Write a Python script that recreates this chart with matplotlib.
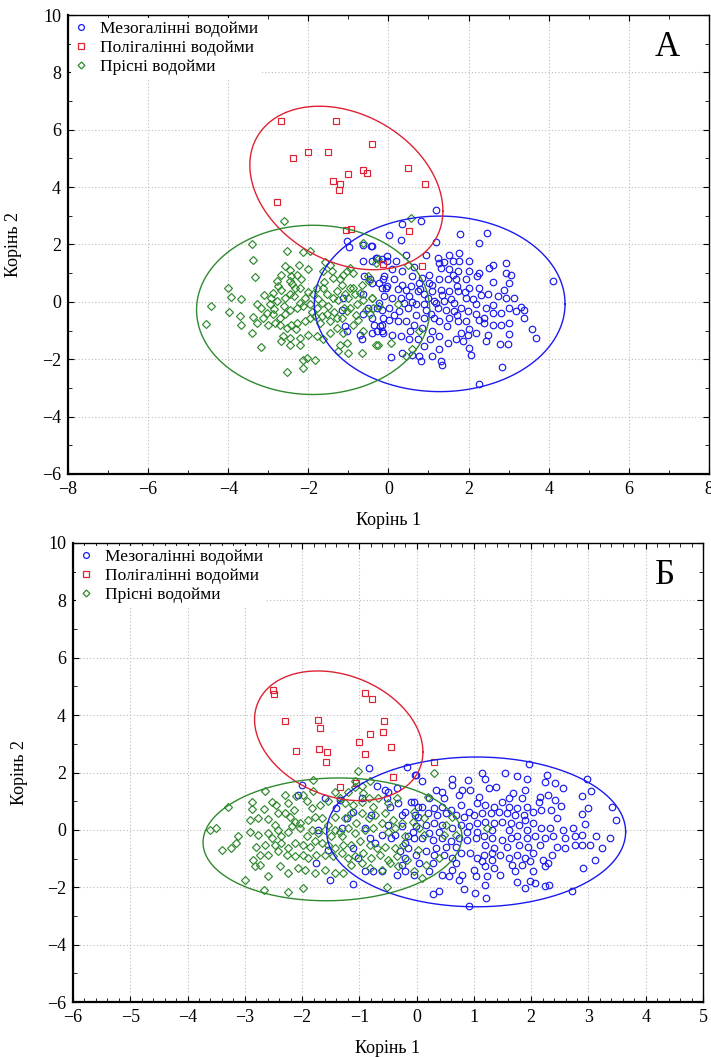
import numpy as np
import matplotlib
matplotlib.use("Agg")
import matplotlib.pyplot as plt
from matplotlib.ticker import MultipleLocator

plt.rcParams['font.family'] = ['Liberation Serif', 'DejaVu Serif']

LABELS = ["Мезогалінні водойми", "Полігалінні водойми", "Прісні водойми"]
XLABEL = "Корінь 1"
YLABEL = "Корінь 2"

# ---------------- Panel A data ----------------
a_poly = [(-2.68, 6.29), (-1.32, 6.32), (-0.41, 5.51), (-2.37, 5.03), (-2.00, 5.24), (-1.50, 5.24),
          (0.49, 4.65), (0.91, 4.12), (-1.39, 4.22), (-1.22, 4.10), (-1.24, 3.91), (-1.01, 4.45),
          (-0.64, 4.59), (-0.53, 4.49), (-2.78, 3.47), (-1.05, 2.50), (-0.94, 2.54), (0.52, 2.46),
          (-0.14, 1.32), (0.83, 1.24)]

a_fresh = [(-2.61, 2.81), (-3.40, 2.03), (-3.38, 1.47), (-3.33, 0.86), (-4.00, 0.47), (-3.93, 0.16),
           (-3.68, 0.10), (-4.44, -0.16), (-3.98, -0.36), (-4.56, -0.76), (-3.68, -0.81), (-3.70, -0.50),
           (-3.38, -0.52), (-3.27, -0.09), (-3.41, -1.08), (-3.17, -1.56), (-2.54, 1.77), (-2.13, 1.73),
           (-1.96, 1.79), (-2.00, 1.15), (-2.24, 1.28), (-2.57, 1.24), (-2.67, 0.95), (-2.42, 0.90),
           (-2.29, 0.95), (-2.17, 0.78), (-2.46, 0.72), (-2.79, 0.72), (-2.67, 0.43), (-2.88, 0.31),
           (-2.92, 0.14), (-2.96, -0.09), (-2.79, 0.02), (-2.58, 0.14), (-2.46, 0.26), (-2.33, 0.49),
           (-2.21, 0.49), (-2.08, 0.14), (-1.88, 0.26), (-1.79, 0.49), (-1.63, 0.49), (-1.58, 1.38),
           (-1.63, 1.07), (-1.42, 1.07), (-1.38, 0.84), (-1.13, 0.95), (-1.04, 1.07), (-0.96, 1.19),
           (-0.88, 1.01), (-1.17, 0.60), (-1.29, 0.37), (-1.38, 0.14), (-1.54, 0.26), (-1.67, -0.03),
           (-1.79, -0.21), (-1.96, -0.09), (-2.13, -0.15), (-2.29, -0.21), (-2.46, -0.27), (-2.58, -0.44),
           (-2.71, -0.56), (-2.88, -0.44), (-3.04, -0.38), (-3.17, -0.21), (-3.13, -0.56), (-3.29, -0.73),
           (-3.00, -0.79), (-2.83, -0.73), (-2.71, -0.79), (-2.54, -0.91), (-2.42, -0.79), (-2.29, -0.73),
           (-2.08, -0.67), (-1.96, -0.56), (-1.83, -0.50), (-1.67, -0.50), (-1.54, -0.44), (-1.46, -0.67),
           (-1.29, -0.56), (-1.17, -0.56), (-1.04, -0.33), (-0.96, -0.21), (-0.79, -0.09), (-0.63, 0.08),
           (-0.67, 0.60), (-0.88, 0.49), (-1.08, 0.26), (-1.00, 0.14), (-0.83, 0.26), (-0.42, 0.14),
           (-0.38, -0.21), (-0.46, -0.44), (-0.75, -0.62), (-1.29, -0.91), (-1.46, -1.08), (-1.63, -1.31),
           (-1.79, -1.20), (-2.00, -1.14), (-2.21, -1.26), (-2.46, -1.26), (-2.63, -1.20), (-2.67, -1.37),
           (-2.21, -1.49), (-2.46, -1.49), (-1.21, -1.49), (-1.04, -1.43), (-1.25, -1.72), (-1.00, -1.78),
           (-0.67, -1.80), (-0.27, -1.51), (-0.63, -1.02), (-1.13, -1.08), (-0.88, -0.79), (-2.04, -1.95),
           (-1.83, -2.01), (-2.13, -2.01), (-2.13, -2.30), (-2.53, -2.44), (-0.63, 2.06),
           (0.56, 2.93), (-0.25, 1.51), (-0.32, 1.36), (0.48, 1.30), (-0.48, 0.72), (-0.40, 0.14),
           (-0.23, -0.15), (-0.32, -1.49), (0.06, -1.43), (0.60, -1.66), (0.43, -1.90), (0.77, -1.00),
           (0.23, -0.09),
           (-2.35, 0.20), (-2.20, -0.05), (-1.75, 0.10), (-1.50, -0.15), (-1.25, 0.05), (-1.10, -0.20),
           (-2.00, 0.35), (-2.60, -0.15), (-1.90, -0.35), (-1.60, 0.70), (-2.40, 0.62), (-1.20, 0.80),
           (-0.95, 0.50), (-0.70, 0.30), (-0.55, -0.30), (-0.80, -0.45), (-1.35, -0.35), (-2.75, 0.55),
           (-3.10, 0.25), (-2.85, -0.25), (-1.70, -0.75), (-2.30, -0.95), (-0.50, 0.90), (-1.45, 1.30),
           (-2.45, 1.10)]

a_meso = [(1.18, 3.20), (0.35, 2.72), (0.81, 2.81), (0.02, 2.33), (0.31, 2.17), (1.18, 2.08), (1.78, 2.38),
          (2.46, 2.41), (2.27, 2.06), (-0.44, 1.94), (-0.32, 1.53), (-0.03, 1.59), (0.18, 1.42), (0.43, 1.65),
          (0.93, 1.65), (1.23, 1.53), (1.27, 1.36), (1.52, 1.65), (1.75, 1.71), (1.60, 1.42), (1.77, 1.42),
          (2.02, 1.42), (2.52, 1.19), (2.62, 1.28), (2.93, 1.36), (2.93, 1.01), (3.06, 0.95), (3.02, 0.66),
          (2.89, 0.43), (2.60, 0.70), (2.27, 1.01), (2.02, 1.07), (1.73, 1.07), (1.52, 1.13), (1.31, 1.19),
          (1.02, 0.95), (0.85, 0.84), (0.60, 0.90), (0.35, 1.07), (0.10, 1.13), (-0.11, 0.90), (-0.23, 0.66),
          (-0.07, 0.49), (0.14, 0.78), (0.35, 0.60), (0.56, 0.55), (0.77, 0.66), (1.02, 0.66), (1.27, 0.78),
          (1.48, 0.78), (1.68, 0.78), (1.93, 0.78), (2.02, 0.49), (2.27, 0.49), (2.48, 0.26), (2.73, 0.20),
          (2.93, 0.14), (3.14, 0.14), (3.31, -0.19), (3.39, -0.27), (3.18, -0.33), (3.02, -0.21), (2.81, -0.38),
          (2.60, -0.38), (2.43, -0.21), (2.18, -0.09), (1.93, 0.14), (1.73, 0.37), (1.52, 0.37), (1.31, 0.43),
          (1.10, 0.37), (0.89, 0.26), (0.73, 0.37), (0.52, 0.20), (0.31, 0.14), (0.10, 0.14), (-0.11, 0.20),
          (-0.23, -0.03), (0.02, -0.21), (0.27, -0.33), (0.48, -0.21), (0.68, -0.09), (0.89, -0.09),
          (1.14, 0.02), (1.39, 0.02), (1.64, -0.03), (1.81, -0.21), (1.98, -0.33), (2.18, -0.44), (2.39, -0.56),
          (2.39, -0.73), (2.60, -0.79), (2.81, -0.79), (3.02, -0.73), (3.39, -0.58), (3.58, -0.93), (3.68, -1.26),
          (3.02, -1.12), (2.78, -1.47), (2.98, -1.47), (2.43, -1.37), (2.48, -1.14), (2.18, -1.08), (1.98, -1.14),
          (1.81, -1.08), (1.68, -1.31), (1.48, -1.43), (1.27, -1.20), (1.10, -1.02), (0.85, -0.91), (0.64, -0.79),
          (0.43, -0.67), (0.23, -0.67), (0.02, -0.62), (-0.15, -0.79), (-0.36, -0.79), (-0.40, -1.08),
          (-0.15, -1.02), (0.10, -1.14), (0.31, -1.20), (0.52, -1.31), (0.73, -1.31), (0.89, -1.55), (1.10, -1.90),
          (1.27, -1.66), (1.31, -2.07), (1.35, -2.19), (0.81, -2.07), (0.77, -1.90), (0.60, -1.84), (0.35, -1.78),
          (0.06, -1.93), (1.52, -0.56), (1.73, -0.67), (1.93, -0.67), (1.27, -0.67), (1.06, -0.44), (0.89, -0.56),
          (1.64, -0.33), (1.43, -0.27), (1.23, -0.21), (2.02, -1.60), (2.06, -1.84), (2.83, -2.28), (2.27, -2.88),
          (4.10, 0.74),
          (-1.04, 2.12), (-0.98, 1.92), (-0.63, 1.97), (-0.42, 1.94), (-0.63, 1.44), (-0.42, 1.42), (-0.29, 1.53),
          (-0.17, 1.48), (-0.04, 1.42), (-0.61, 0.90), (-0.46, 0.78), (-0.42, 0.66), (-0.13, 0.78), (-0.04, 0.55),
          (-0.17, 0.49), (-0.63, 0.26), (-0.50, -0.21), (-0.29, -0.21), (-0.17, -0.27), (-0.63, -0.44),
          (-0.42, -0.56), (-0.21, -0.85), (-0.13, -1.08), (-0.29, -1.02), (-1.13, 0.14), (-1.17, -0.27),
          (-1.08, -0.85), (-1.04, -1.02), (-0.71, -1.14), (-0.67, -1.31), (-0.13, -0.56),
          (0.60, 0.00), (0.80, 0.45), (1.00, 0.15), (1.20, -0.05), (1.35, 0.25), (1.55, 0.10), (1.70, 0.55),
          (1.90, 0.35), (2.10, 0.10), (2.30, 0.25), (0.70, -0.45), (0.95, -0.30), (1.15, -0.55), (1.45, -0.85),
          (1.70, -0.45), (2.00, -0.95), (2.25, -0.65), (0.45, 0.40), (0.25, 0.45), (0.40, -0.05), (1.10, 0.60),
          (1.60, 0.95), (2.20, 0.90), (0.65, 1.20), (1.40, 1.40), (1.85, -1.35), (2.60, -0.10), (0.15, -0.45),
          (0.55, -1.00), (1.05, -1.30)]

# ---------------- Panel B data ----------------
b_poly = [(-2.51, 4.88), (-2.49, 4.74), (-0.91, 4.76), (-0.78, 4.55), (-2.30, 3.80), (-1.73, 3.83),
          (-1.68, 3.56), (-0.57, 3.81), (-0.59, 3.40), (-0.82, 3.34), (-1.00, 3.06), (-2.11, 2.76),
          (-1.71, 2.82), (-1.57, 2.73), (-1.59, 2.38), (-0.91, 2.65), (-0.45, 2.88), (0.31, 2.36),
          (-0.41, 1.86), (-1.33, 1.49), (-1.05, 1.65)]

b_fresh = [(-1.81, 1.73), (-1.02, 2.05), (-1.08, 1.71), (-0.82, 1.70), (-2.65, 1.35), (-2.30, 1.21),
           (-2.10, 1.18), (-1.98, 1.21), (-1.81, 1.36), (-1.43, 1.33), (-1.19, 1.33), (-1.08, 1.50),
           (-0.96, 1.54), (-0.93, 1.27),
           (-2.88, 0.98), (-2.53, 0.98), (-2.88, 0.72), (-2.66, 0.73), (-2.45, 0.87), (-2.24, 0.92),
           (-2.15, 0.69), (-1.92, 1.01), (-1.83, 0.75), (-1.69, 0.87), (-1.54, 1.01), (-1.34, 1.10),
           (-1.25, 0.95), (-1.11, 0.87), (-0.96, 0.98), (-0.84, 1.10), (-0.67, 1.10), (-0.76, 0.81),
           (-0.50, 0.92), (-0.35, 1.10),
           (-2.91, 0.35), (-2.77, 0.40), (-2.59, 0.38), (-2.42, 0.58), (-2.30, 0.58), (-2.21, 0.46),
           (-2.13, 0.29), (-2.04, 0.23), (-2.47, 0.17), (-1.89, 0.35), (-1.78, 0.46), (-1.66, 0.40),
           (-1.43, 0.46), (-1.25, 0.40), (-1.14, 0.58), (-0.96, 0.58), (-0.84, 0.40), (-0.73, 0.52),
           (-0.55, 0.58), (-0.41, 0.35), (-0.26, 0.23), (-0.61, 0.23), (-1.05, 0.23), (-1.54, 0.17),
           (-1.43, 0.00),
           (-3.61, 0.00), (-3.51, 0.06), (-3.12, -0.20), (-2.91, -0.06), (-2.77, -0.17), (-2.59, -0.12),
           (-2.42, 0.00), (-2.24, -0.06), (-2.18, 0.12), (-2.04, 0.06), (-1.92, -0.20), (-1.83, 0.00),
           (-1.72, -0.12), (-1.60, 0.00), (-1.34, -0.06), (-1.19, 0.06), (-1.08, -0.12), (-0.90, 0.00),
           (-0.76, 0.06), (-0.50, -0.06), (-0.38, 0.06), (-0.20, -0.23), (-1.31, -0.23), (-1.49, -0.23),
           (-2.36, -0.23), (-2.53, -0.29),
           (-3.15, -0.46), (-3.39, -0.69), (-3.25, -0.64), (-2.80, -0.58), (-2.65, -0.52), (-2.47, -0.52),
           (-2.36, -0.46), (-2.24, -0.64), (-2.13, -0.46), (-1.98, -0.52), (-1.86, -0.58), (-1.78, -0.40),
           (-1.66, -0.46), (-1.54, -0.52), (-1.43, -0.64), (-1.28, -0.52), (-1.14, -0.52), (-0.99, -0.40),
           (-0.82, -0.52), (-0.70, -0.64), (-0.55, -0.58), (-0.38, -0.64), (-0.23, -0.52),
           (-2.74, -0.87), (-2.59, -0.87), (-2.42, -0.75), (-2.27, -0.87), (-2.13, -0.92), (-1.98, -0.87),
           (-1.89, -0.98), (-1.75, -0.87), (-1.60, -0.87), (-1.46, -0.92), (-1.31, -0.81), (-1.19, -0.98),
           (-1.08, -0.92), (-0.93, -0.81), (-0.79, -0.98), (-0.64, -0.87), (-0.50, -1.04), (-0.35, -0.92),
           (-0.17, -1.04), (-2.85, -1.04),
           (-2.82, -1.27), (-2.74, -1.21), (-2.39, -1.27), (-2.24, -1.50), (-2.07, -1.33), (-1.95, -1.39),
           (-1.78, -1.50), (-1.60, -1.39), (-1.43, -1.50), (-1.28, -1.50), (-1.14, -1.21), (-0.96, -1.16),
           (-0.82, -1.33), (-0.61, -1.39), (-0.47, -1.16), (-0.32, -1.27),
           (-3.00, -1.73), (-2.59, -1.60), (-2.66, -2.08), (-2.24, -2.17), (-1.99, -2.02), (-0.52, -2.00),
           (-3.29, 0.79),
           (0.31, 1.99), (0.19, 1.16), (-0.04, 0.64), (0.13, 0.40), (0.05, 0.06), (-0.07, 0.29), (0.13, -0.17),
           (0.51, 0.17), (0.62, 0.46), (0.48, -0.17), (0.68, -0.17), (0.02, -0.69), (0.16, -1.21),
           (0.39, -0.98), (0.10, -1.68), (1.23, 0.06), (-0.04, -1.45)]

b_meso = [(1.97, 2.31), (1.14, 1.97), (1.54, 2.00), (1.75, 1.87), (1.92, 1.79), (2.27, 1.93), (2.25, 1.68),
          (2.42, 1.62), (2.98, 1.77), (0.62, 1.77), (0.90, 1.73), (1.20, 1.79), (-0.01, 1.91), (0.09, 1.70),
          (0.34, 1.39), (0.45, 1.33), (0.62, 1.56), (0.80, 1.39), (0.94, 1.39), (1.26, 1.45), (1.38, 1.50),
          (1.69, 1.27), (1.90, 1.39), (2.16, 1.16), (2.30, 1.21), (2.42, 1.04), (2.56, 1.45), (2.88, 1.19),
          (3.05, 1.35), (0.22, 1.10), (0.48, 1.10), (0.74, 1.21), (1.09, 1.16), (1.61, 1.10), (1.84, 1.10),
          (2.13, 0.98),
          (-0.04, 0.98), (0.10, 0.81), (0.31, 0.75), (0.45, 0.81), (0.60, 0.69), (0.77, 0.87), (0.91, 0.64),
          (1.06, 0.92), (1.20, 0.87), (1.35, 0.81), (1.49, 0.98), (1.61, 0.81), (1.75, 0.75), (1.92, 0.81),
          (2.04, 0.64), (2.18, 0.69), (2.35, 0.69), (2.52, 0.84), (2.88, 0.54), (2.99, 0.75), (3.41, 0.81),
          (0.02, 0.46), (0.19, 0.58), (0.36, 0.52), (0.51, 0.58), (0.68, 0.52), (0.83, 0.46), (1.00, 0.52),
          (1.14, 0.58), (1.29, 0.58), (1.43, 0.64), (1.58, 0.58), (1.72, 0.52), (1.87, 0.52), (2.45, 0.40),
          (-0.01, 0.12), (0.16, 0.17), (0.31, 0.23), (0.45, 0.17), (0.62, 0.06), (0.77, 0.17), (0.91, 0.12),
          (1.06, 0.23), (1.20, 0.29), (1.35, 0.23), (1.49, 0.29), (1.64, 0.23), (1.78, 0.17), (1.90, 0.35),
          (2.04, 0.23), (2.18, 0.06), (2.33, 0.06), (2.56, 0.00), (2.73, 0.06), (2.94, 0.20), (3.49, 0.35),
          (0.22, -0.12), (0.39, -0.06), (0.88, -0.06), (1.06, -0.06), (1.32, 0.00), (1.61, 0.00), (1.92, 0.00),
          (-0.04, -0.29), (0.10, -0.29), (0.28, -0.35), (0.45, -0.29), (0.60, -0.40), (0.74, -0.29),
          (0.88, -0.35), (1.03, -0.29), (1.17, -0.23), (1.32, -0.29), (1.49, -0.35), (1.64, -0.29),
          (1.75, -0.23), (1.92, -0.29), (2.07, -0.23), (2.24, -0.29), (2.39, -0.23), (2.59, -0.29),
          (2.76, -0.23), (2.88, -0.17), (3.02, -0.54), (3.14, -0.23), (3.37, -0.27), (2.88, -0.52),
          (2.76, -0.52), (3.23, -0.64), (0.34, -0.64), (0.51, -0.58), (0.68, -0.58), (1.20, -0.52),
          (1.35, -0.64), (1.58, -0.58), (1.78, -0.52), (1.95, -0.58), (2.16, -0.52), (2.45, -0.58),
          (-0.01, -0.87), (0.16, -0.75), (0.31, -0.87), (0.48, -0.87), (0.62, -0.98), (0.77, -0.81),
          (0.94, -0.81), (1.06, -0.98), (1.17, -0.87), (1.32, -0.81), (1.46, -0.87), (1.61, -0.98),
          (1.75, -0.87), (1.90, -0.98), (2.04, -0.81), (2.21, -1.04), (2.36, -0.87), (2.59, -0.64),
          (3.11, -1.04), (0.05, -1.16), (0.28, -1.16), (0.68, -1.16), (1.14, -1.10), (1.32, -1.04),
          (1.66, -1.21), (1.84, -1.21), (1.98, -1.10), (2.30, -1.16),
          (-0.04, -1.56), (0.22, -1.45), (0.45, -1.56), (0.62, -1.39), (0.80, -1.56), (1.00, -1.39),
          (1.20, -1.27), (1.35, -1.33), (1.46, -1.56), (1.72, -1.45), (2.04, -1.45), (2.24, -1.27),
          (2.91, -1.33), (0.57, -1.62), (0.74, -1.73), (1.03, -1.62), (1.23, -1.62), (1.75, -1.82),
          (1.98, -1.79), (2.07, -1.85), (2.24, -1.97), (2.32, -1.93),
          (0.28, -2.23), (0.39, -2.12), (0.83, -2.05), (1.02, -2.20), (1.20, -1.91), (1.22, -2.39),
          (0.91, -2.66), (1.90, -2.02), (2.72, -2.12),
          (-0.84, 2.17), (-0.17, 2.20), (-0.03, 1.91), (-2.01, 1.56), (-2.07, 1.21), (-1.60, 1.10),
          (-1.40, 0.75), (-1.34, 1.04), (-0.96, 1.10), (-0.70, 1.53), (-0.55, 1.39), (-0.52, 1.10),
          (-0.47, 0.81), (-0.50, 1.33), (-0.35, 1.45), (-0.32, 0.92), (-0.20, 0.64), (-0.10, 0.98),
          (-0.03, 0.52), (0.03, 0.81), (-0.26, 0.52), (-0.50, 0.17), (-0.26, 0.12), (-0.38, -0.17),
          (-0.15, -0.23), (-0.06, -0.06), (-0.20, -0.46), (-0.15, -0.64), (-0.20, -0.98), (-0.29, -0.75),
          (-0.44, -0.29), (-0.82, -0.29), (-0.73, -0.46), (-0.61, -0.17), (-1.11, 0.64), (-1.72, 0.00),
          (-1.54, -0.69), (-1.75, -1.16), (-1.51, -1.73), (-1.11, -1.87), (-0.90, -1.45), (-0.76, -1.45),
          (-0.61, -1.45), (-0.35, -1.56), (-0.20, -1.45), (-0.26, -1.21), (-1.02, -0.98), (-1.11, -0.64),
          (-1.31, 0.06), (-1.22, 0.40), (-0.79, 0.52), (-0.90, 0.06)]

# Confidence ellipses: (centre x, centre y, half-extent x, half-extent y, correlation)
a_ellipses = {"meso": (1.28, -0.07, 3.13, 3.06, 0.0),
              "poly": (-1.05, 3.97, 2.41, 2.85, -0.28),
              "fresh": (-1.88, -0.28, 2.91, 2.95, 0.0)}
b_ellipses = {"meso": (1.04, -0.07, 2.61, 2.61, 0.0),
              "poly": (-1.36, 3.28, 1.47, 2.26, -0.25),
              "fresh": (-1.47, -0.33, 2.26, 2.14, 0.05)}

COL = {"meso": "#1a1aee", "poly": "#dd2233", "fresh": "#2f8a2f"}
MARK = {"meso": "o", "poly": "s", "fresh": "D"}
MSIZE = {"meso": 4.7, "poly": 4.6, "fresh": 4.0}


def ellipse_curve(params):
    cx, cy, sx, sy, r = params
    t = np.linspace(0, 2 * np.pi, 400)
    x = cx + sx * np.cos(t)
    y = cy + sy * (r * np.cos(t) + np.sqrt(1 - r * r) * np.sin(t))
    return x, y


def draw_panel(ax, meso, poly, fresh, ells, xlim, xmaj, xmin_, letter):
    for key, pts in (("meso", meso), ("fresh", fresh), ("poly", poly)):
        xs = [p[0] for p in pts]
        ys = [p[1] for p in pts]
        ax.plot(xs, ys, linestyle="none", marker=MARK[key], markersize=MSIZE[key],
                markerfacecolor="none", markeredgecolor=COL[key], markeredgewidth=0.85, zorder=3)
    for key in ("meso", "poly", "fresh"):
        ex, ey = ellipse_curve(ells[key])
        ax.plot(ex, ey, color=COL[key], lw=1.0, zorder=4)
    ax.set_xlim(*xlim)
    ax.set_ylim(-6, 10)
    ax.xaxis.set_major_locator(MultipleLocator(xmaj))
    ax.xaxis.set_minor_locator(MultipleLocator(xmin_))
    ax.yaxis.set_major_locator(MultipleLocator(2))
    ax.yaxis.set_minor_locator(MultipleLocator(1))
    ax.grid(True, which="major", linestyle=(0, (1, 2)), color="#bbbbbb", lw=0.8, zorder=0)
    ax.tick_params(which="both", direction="in", top=True, right=True, labelsize=13, pad=5)
    ax.tick_params(which="major", length=4, width=0.8)
    ax.tick_params(which="minor", length=3, width=0.6)
    for sp in ax.spines.values():
        sp.set_linewidth(1.0)
    ax.spines["left"].set_linewidth(1.6)
    ax.spines["bottom"].set_linewidth(1.6)
    ax.set_xlabel(XLABEL, fontsize=13, labelpad=10)
    ax.set_ylabel(YLABEL, fontsize=13, labelpad=14)
    handles = [plt.Line2D([], [], linestyle="none", marker=MARK[k], markersize=MSIZE[k] - 0.5,
                          markerfacecolor="none", markeredgecolor=COL[k], markeredgewidth=0.9)
               for k in ("meso", "poly", "fresh")]
    leg = ax.legend(handles, LABELS, loc="upper left", frameon=True, fontsize=12.5,
                    handletextpad=0.7, borderaxespad=0.15, labelspacing=0.15, handlelength=0.8,
                    borderpad=0.2)
    leg.get_frame().set_edgecolor("none")
    leg.get_frame().set_facecolor("white")
    leg.get_frame().set_alpha(1.0)
    leg.set_zorder(5)
    ax.text(0.955, 0.965, letter, transform=ax.transAxes, ha="right", va="top", fontsize=25, zorder=6)


fig = plt.figure(figsize=(7.11, 10.57), dpi=100)
axA = fig.add_axes([0.0956, 0.5516, 0.9014, 0.4342])
axB = fig.add_axes([0.1027, 0.0520, 0.8860, 0.4343])

draw_panel(axA, a_meso, a_poly, a_fresh, a_ellipses, (-8, 8), 2, 1, "А")
draw_panel(axB, b_meso, b_poly, b_fresh, b_ellipses, (-6, 5), 1, 0.2, "Б")

fig.savefig("out.png", dpi=100)
